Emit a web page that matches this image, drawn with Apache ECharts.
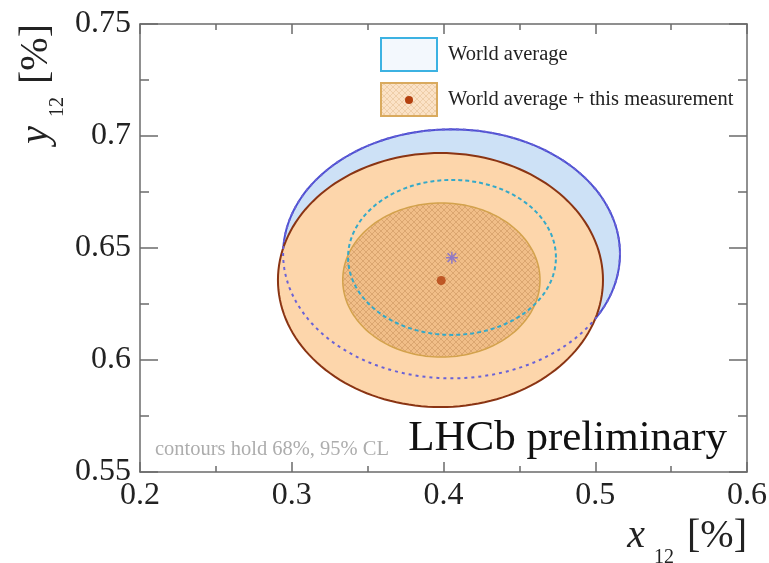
<!DOCTYPE html>
<html>
<head>
<meta charset="utf-8">
<title>x12 / y12 contours</title>
<script src="https://cdn.jsdelivr.net/npm/echarts@6/dist/echarts.min.js"></script>
<style>
  html, body { margin: 0; padding: 0; background: #fff; }
  #chart { width: 769px; height: 563px; }
</style>
</head>
<body>
<div id="chart"></div>
<script>
// Axis ticks (in %)
const xTicks = [0.2, 0.3, 0.4, 0.5, 0.6];
const yTicks = [0.55, 0.6, 0.65, 0.7, 0.75];

// Central values [x12, y12]
const waCenter = [0.4055, 0.6457];     // World average
const combCenter = [0.3985, 0.6355];   // World average + this measurement

// Contour centres [x12, y12] and half-widths [dx, dy] at 68% and 95% CL
const wa68Center = [0.4056, 0.6458];
const wa68 = [0.0685, 0.0346];
const wa95Center = [0.4053, 0.6474];
const wa95 = [0.1110, 0.0556];
const comb68Center = [0.3986, 0.6357];
const comb68 = [0.0650, 0.0344];
const comb95Center = [0.3980, 0.6357];
const comb95 = [0.1071, 0.0567];

const seriesNames = ['World average', 'World average + this measurement'];

const SERIF = 'Liberation Serif, DejaVu Serif, serif';
const step = (t) => +(t[1] - t[0]).toFixed(10);

// Fine cross-hatch used for the inner combined contour
function makeHatch(bg, line, size) {
  const c = document.createElement('canvas');
  c.width = size; c.height = size;
  const g = c.getContext('2d');
  g.fillStyle = bg; g.fillRect(0, 0, size, size);
  g.strokeStyle = line; g.lineWidth = 0.8;
  g.beginPath();
  g.moveTo(0, 0); g.lineTo(size, size);
  g.moveTo(size, 0); g.lineTo(0, size);
  g.stroke();
  return { image: c, repeat: 'repeat' };
}
const hatchFill = makeHatch('#f1be88', '#d59f6a', 6);
const hatchLegend = makeHatch('#fbe2c6', '#ebc9a2', 6);

// Outline of a contour, traced through the axis scales
function contour(styleFn) {
  return function (params, api) {
    const cx = api.value(0), cy = api.value(1);
    const dx = api.value(2), dy = api.value(3);
    const n = 160, pts = [];
    for (let k = 0; k < n; k++) {
      const t = 2 * Math.PI * k / n;
      pts.push(api.coord([cx + dx * Math.cos(t), cy + dy * Math.sin(t)]));
    }
    return { type: 'polygon', shape: { points: pts }, style: styleFn() };
  };
}

function contourSeries(center, half, styleFn, z) {
  return {
    type: 'custom',
    coordinateSystem: 'cartesian2d',
    renderItem: contour(styleFn),
    data: [[center[0], center[1], half[0], half[1]]],
    silent: true,
    z: z
  };
}

const frame = { lineStyle: { color: '#6b6b6b', width: 1.5 } };

const titleRich = {
  v: { fontFamily: SERIF, fontStyle: 'italic', fontSize: 40, lineHeight: 52, verticalAlign: 'top', color: '#222' },
  s: { fontFamily: SERIF, fontSize: 20, lineHeight: 12, verticalAlign: 'bottom', color: '#222', padding: [0, 3, 0, 9] },
  b: { fontFamily: SERIF, fontSize: 40, lineHeight: 52, verticalAlign: 'top', color: '#222' }
};

function xAxisAt(position, withLabels) {
  return {
    type: 'value', position: position,
    min: xTicks[0], max: xTicks[xTicks.length - 1], interval: step(xTicks),
    axisLine: Object.assign({ onZero: false }, frame),
    axisTick: { inside: true, length: 10, lineStyle: frame.lineStyle },
    minorTick: { show: true, splitNumber: 2, length: 6, lineStyle: frame.lineStyle },
    splitLine: { show: false },
    axisLabel: withLabels ? { fontFamily: SERIF, fontSize: 32, color: '#222', margin: 8 } : { show: false }
  };
}
function yAxisAt(position, withLabels) {
  return {
    type: 'value', position: position,
    min: yTicks[0], max: yTicks[yTicks.length - 1], interval: step(yTicks),
    axisLine: Object.assign({ onZero: false }, frame),
    axisTick: { inside: true, length: 18, lineStyle: frame.lineStyle },
    minorTick: { show: true, splitNumber: 2, length: 9, lineStyle: frame.lineStyle },
    splitLine: { show: false },
    axisLabel: withLabels ? { fontFamily: SERIF, fontSize: 32, color: '#222', margin: 9 } : { show: false }
  };
}

const xMain = Object.assign(xAxisAt('bottom', true), {
  name: '{v|x}{s|12}{b| [%]}',
  nameLocation: 'end', nameGap: 0,
  nameTextStyle: { rich: titleRich, align: 'right', verticalAlign: 'top', padding: [44, 0, 0, 0] }
});
const yMain = Object.assign(yAxisAt('left', true), {
  name: '{v|y}{s|12}{b| [%]}',
  nameLocation: 'end', nameGap: 0, nameRotate: 90,
  nameTextStyle: { rich: titleRich, align: 'right', verticalAlign: 'bottom', padding: [0, 0, 72, 0] }
});

const chart = echarts.init(document.getElementById('chart'), null, { renderer: 'canvas' });

const option = {
  animation: false,
  backgroundColor: '#fff',
  grid: { left: 140, right: 22, top: 24, bottom: 91, containLabel: false, outerBoundsMode: 'none' },
  xAxis: [xMain, xAxisAt('top', false)],
  yAxis: [yMain, yAxisAt('right', false)],
  series: [
    // 95% CL, world average: filled region
    contourSeries(wa95Center, wa95, () => ({ fill: '#cde1f6', stroke: '#4b4fd2', lineWidth: 2 }), 1),
    // 95% CL, combined
    contourSeries(comb95Center, comb95, () => ({ fill: '#fdd6ab', stroke: '#8a3413', lineWidth: 2 }), 2),
    // 68% CL, combined (hatched)
    contourSeries(comb68Center, comb68, () => ({ fill: hatchFill, stroke: '#d3a24c', lineWidth: 1.5 }), 3),
    // world average 95% outline where hidden below the combined contour
    contourSeries(wa95Center, wa95, () => ({ fill: 'none', stroke: '#6a62d6', lineWidth: 2, lineDash: [3, 4] }), 4),
    // world average 68% outline
    contourSeries(wa68Center, wa68, () => ({ fill: 'none', stroke: '#35a9c8', lineWidth: 2, lineDash: [4, 3] }), 5),
    {
      name: seriesNames[0], type: 'scatter', z: 6,
      symbol: 'path://M0,-6L0,6M-6,0L6,0M-4.3,-4.3L4.3,4.3M-4.3,4.3L4.3,-4.3',
      symbolSize: 12,
      itemStyle: { color: 'rgba(0,0,0,0)', borderColor: '#7a6ad6', borderWidth: 1.5 },
      data: [waCenter]
    },
    {
      name: seriesNames[1], type: 'scatter', z: 6,
      symbol: 'circle', symbolSize: 9,
      itemStyle: { color: '#b4400f' },
      data: [combCenter]
    }
  ],
  graphic: [
    // legend
    { type: 'rect', shape: { x: 381, y: 38, width: 56, height: 33 }, style: { fill: '#f3f8fd', stroke: '#3cb2e2', lineWidth: 2 }, z: 10 },
    { type: 'group', x: 409, y: 55, z: 11, children: [
      { type: 'line', shape: { x1: 0, y1: -5, x2: 0, y2: 5 }, style: { stroke: '#7a6ad6', lineWidth: 1.3 } },
      { type: 'line', shape: { x1: -5, y1: 0, x2: 5, y2: 0 }, style: { stroke: '#7a6ad6', lineWidth: 1.3 } },
      { type: 'line', shape: { x1: -3.6, y1: -3.6, x2: 3.6, y2: 3.6 }, style: { stroke: '#7a6ad6', lineWidth: 1.3 } },
      { type: 'line', shape: { x1: -3.6, y1: 3.6, x2: 3.6, y2: -3.6 }, style: { stroke: '#7a6ad6', lineWidth: 1.3 } }
    ] },
    { type: 'text', x: 448, y: 55, z: 11, style: { text: seriesNames[0], font: '20.5px ' + SERIF, fill: '#222', verticalAlign: 'middle' } },
    { type: 'rect', shape: { x: 381, y: 83, width: 56, height: 33 }, style: { fill: hatchLegend, stroke: '#d9aa5e', lineWidth: 2 }, z: 10 },
    { type: 'circle', shape: { cx: 409, cy: 100, r: 4 }, style: { fill: '#b4400f' }, z: 11 },
    { type: 'text', x: 448, y: 100, z: 11, style: { text: seriesNames[1], font: '20.5px ' + SERIF, fill: '#222', verticalAlign: 'middle' } },
    // annotations
    { type: 'text', right: 42, top: 417, z: 11, style: { text: 'LHCb preliminary', font: '43px ' + SERIF, fill: '#111' } },
    { type: 'text', left: 155, top: 439, z: 11, style: { text: 'contours hold 68%, 95% CL', font: '20.5px ' + SERIF, fill: '#adadad' } }
  ]
};

chart.setOption(option);
</script>
</body>
</html>
